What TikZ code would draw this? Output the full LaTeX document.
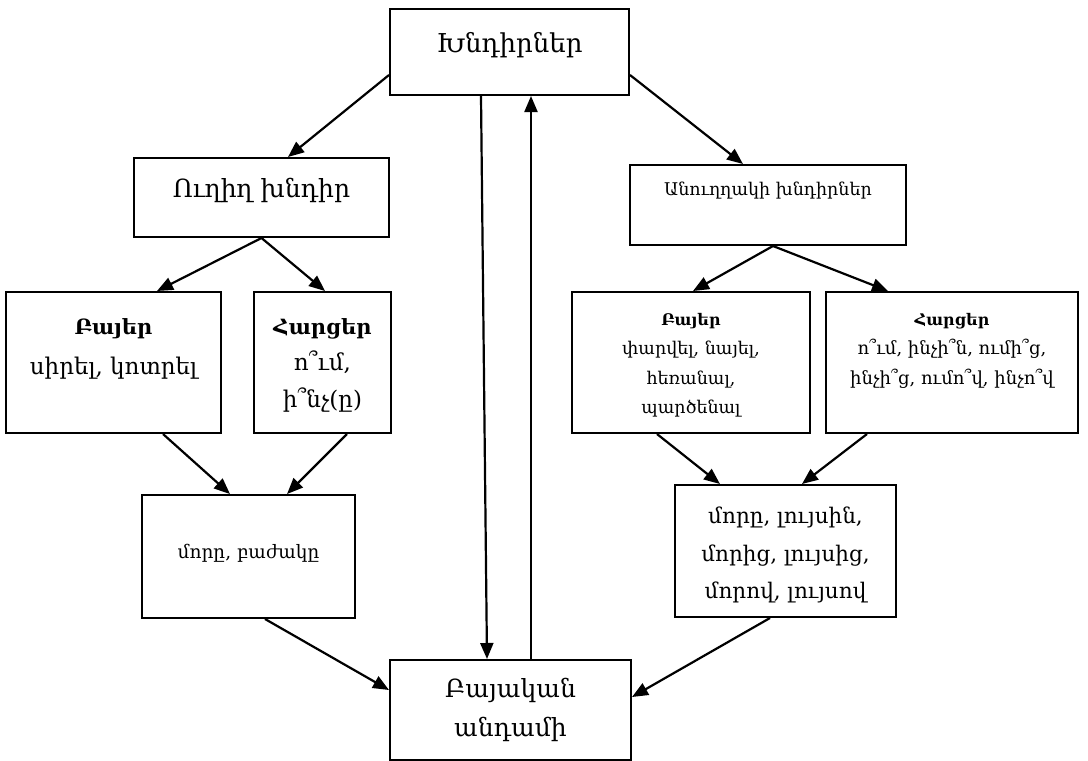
\documentclass[tikz,border=0pt]{standalone}
\usepackage{fontspec}
\setmainfont{DejaVu Serif}
\usetikzlibrary{arrows.meta}
\begin{document}
\begin{tikzpicture}[x=1pt,y=-1pt,
  box/.style={draw, line width=2pt, rectangle, inner sep=0pt},
  conn/.style={line width=2.2pt, -{Triangle[length=16pt,width=13pt]}},
  txt/.style={align=center, inner sep=0pt}]
\useasboundingbox (0,0) rectangle (1088,761);
\fill[white] (0,0) rectangle (1088,761);

% boxes (centre, size) and their texts
\node[box, minimum width=239pt, minimum height=86pt] (kh) at (509.5,52) {};
\node[txt, font=\fontsize{26}{38}\selectfont] (khT) at (509.5,45) {Խնդիրներ};

\node[box, minimum width=255pt, minimum height=79pt] (ux) at (261.5,197.5) {};
\node[txt, font=\fontsize{25}{38}\selectfont] (uxT) at (261.5,190) {Ուղիղ խնդիր};

\node[box, minimum width=215pt, minimum height=141pt] (lb) at (113.5,362.5) {};
\node[txt, anchor=north, font=\fontsize{23}{40}\selectfont] (lbT) at (113.5,318)
  {{\fontsize{21}{40}\selectfont\textbf{Բայեր}}\\սիրել, կոտրել};

\node[box, minimum width=137pt, minimum height=141pt] (lh) at (322.5,362.5) {};
\node[txt, anchor=north, font=\fontsize{23}{36.5}\selectfont] (lhT) at (322.5,318)
  {{\fontsize{21}{36.5}\selectfont\textbf{Հարցեր}}\\ո՞ւմ,\\ի՞նչ(ը)};

\node[box, minimum width=213pt, minimum height=123pt] (lm) at (248.5,556.5) {};
\node[txt, font=\fontsize{18.5}{28}\selectfont] (lmT) at (248.5,553) {մորը, բաժակը};

\node[box, minimum width=276pt, minimum height=80pt] (an) at (768,205) {};
\node[txt, font=\fontsize{17.5}{28}\selectfont] (anT) at (768,191) {Անուղղակի խնդիրներ};

\node[box, minimum width=238pt, minimum height=141pt] (rb) at (691,362.5) {};
\node[txt, anchor=north, font=\fontsize{17.5}{29.5}\selectfont] (rbT) at (691,313)
  {{\fontsize{16}{29.5}\selectfont\textbf{Բայեր}}\\փարվել, նայել,\\հեռանալ,\\պարծենալ};

\node[box, minimum width=252pt, minimum height=141pt] (rh) at (952,362.5) {};
\node[txt, anchor=north, font=\fontsize{18}{29.5}\selectfont] (rhT) at (952,313)
  {{\fontsize{16}{29.5}\selectfont\textbf{Հարցեր}}\\ո՞ւմ, ինչի՞ն, ումի՞ց,\\ինչի՞ց, ումո՞վ, ինչո՞վ};

\node[box, minimum width=221pt, minimum height=132pt] (rm) at (785.5,551) {};
\node[txt, anchor=north, font=\fontsize{21.5}{37.5}\selectfont] (rmT) at (785.5,507)
  {մորը, լույսին,\\մորից, լույսից,\\մորով, լույսով};

\node[box, minimum width=241pt, minimum height=100pt] (ba) at (510.5,710) {};
\node[txt, anchor=north, font=\fontsize{25}{39}\selectfont] (baT) at (510.5,678)
  {Բայական\\անդամի};

% connectors
\draw[conn] ([yshift=-23pt]kh.west) -- ([xshift=26.5pt]ux.north);
\draw[conn] ([yshift=-23pt]kh.east) -- ([xshift=-25pt]an.north);
\draw[conn] (ux.south) -- ([xshift=43.5pt]lb.north);
\draw[conn] (ux.south) -- ([xshift=2.5pt]lh.north);
\draw[conn] ([xshift=5pt]an.south) -- ([xshift=2pt]rb.north);
\draw[conn] ([xshift=5pt]an.south) -- ([xshift=-64pt]rh.north);
\draw[conn] ([xshift=49.5pt]lb.south) -- ([xshift=-18.5pt]lm.north);
\draw[conn] ([xshift=24.5pt]lh.south) -- ([xshift=38.5pt]lm.north);
\draw[conn] ([xshift=-34pt]rb.south) -- ([xshift=-65.5pt]rm.north);
\draw[conn] ([xshift=-85pt]rh.south) -- ([xshift=16.5pt]rm.north);
\draw[conn] ([xshift=16.5pt]lm.south) -- ([yshift=20pt]ba.west);
\draw[conn] ([xshift=-15.5pt]rm.south) -- ([yshift=13pt]ba.east);
\draw[conn] ([xshift=-28.5pt]kh.south) -- ([xshift=-23.5pt]ba.north);
\draw[conn] ([xshift=20.5pt]ba.north) -- ([xshift=21.5pt]kh.south);
\end{tikzpicture}
\end{document}
